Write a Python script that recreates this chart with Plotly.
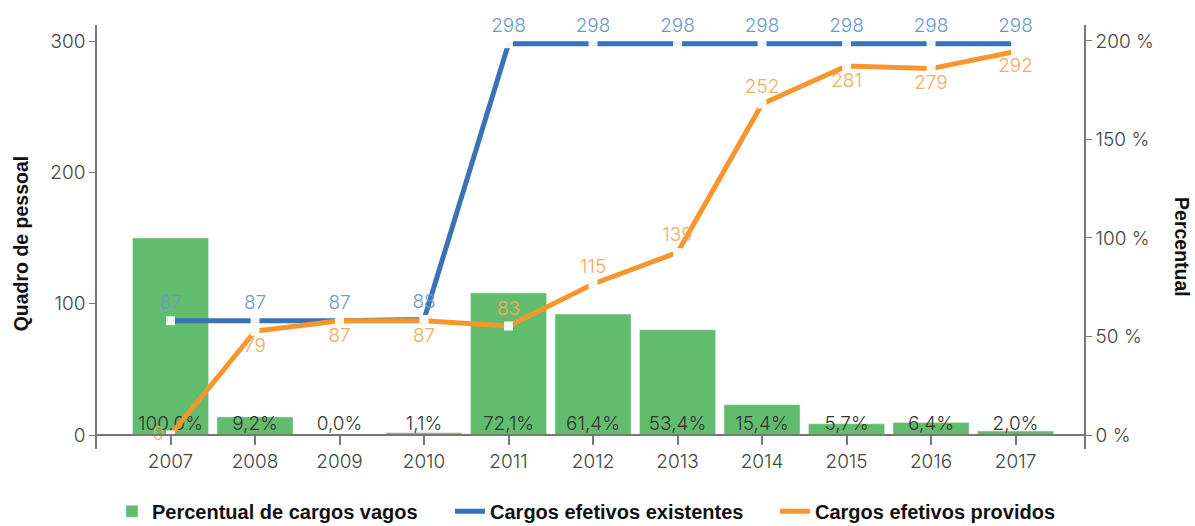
import plotly.graph_objects as go

# data
years = ['2007', '2008', '2009', '2010', '2011', '2012', '2013', '2014', '2015', '2016', '2017']
pct_vagos = [100.0, 9.2, 0.0, 1.1, 72.1, 61.4, 53.4, 15.4, 5.7, 6.4, 2.0]
existentes = [87, 87, 87, 88, 298, 298, 298, 298, 298, 298, 298]
providos = [0, 79, 87, 87, 83, 115, 139, 252, 281, 279, 292]
pct_ticks = [0, 50, 100, 150, 200]
count_ticks = [0, 100, 200, 300]

GREEN = '#61bd6d'
BLUE = '#3a72b8'
ORANGE = '#f7962e'
LIGHT = 'Inter'
BOLD = 'Liberation Sans'

pct_text = [f"{v:.1f}".replace('.', ',') + '%' for v in pct_vagos]
prov_pos = ['middle left', 'bottom center', 'bottom center', 'bottom center', 'top center',
            'top center', 'top center', 'top center', 'bottom center', 'bottom center', 'bottom center']

fig = go.Figure()

# bars on the base axis (percent, right side) so the lines draw on top
fig.add_trace(go.Bar(
    x=years, y=pct_vagos, name='Percentual de cargos vagos',
    marker=dict(color=GREEN), yaxis='y', legend='legend'
))
fig.add_trace(go.Scatter(
    x=years, y=[0] * len(years), mode='text', text=pct_text,
    textposition='top center', showlegend=False, yaxis='y', cliponaxis=False,
    textfont=dict(family=LIGHT, size=19, color='#333333', weight=300),
    hoverinfo='skip'
))

# lines on the overlaying axis (headcount, left side)
fig.add_trace(go.Scatter(
    x=years, y=existentes, mode='lines', name='Cargos efetivos existentes',
    line=dict(color=BLUE, width=5), yaxis='y2', legend='legend2'
))
fig.add_trace(go.Scatter(
    x=years, y=existentes, mode='markers+text', text=[str(v) for v in existentes],
    textposition='top center', showlegend=False, yaxis='y2', cliponaxis=False,
    marker=dict(symbol='square', size=9, color='rgba(255,255,255,0.92)'),
    textfont=dict(family=LIGHT, size=19, color='#6b98d2', weight=300)
))
fig.add_trace(go.Scatter(
    x=years, y=providos, mode='lines', name='Cargos efetivos providos',
    line=dict(color=ORANGE, width=5), yaxis='y2', legend='legend3'
))
fig.add_trace(go.Scatter(
    x=years, y=providos, mode='markers+text', text=[str(v) for v in providos],
    textposition=prov_pos, showlegend=False, yaxis='y2', cliponaxis=False,
    marker=dict(symbol='square', size=9, color='rgba(255,255,255,0.92)'),
    textfont=dict(family=LIGHT, size=19, color='#f6a95f', weight=300)
))

axis_font = dict(family=LIGHT, size=19, color='#444444', weight=300)
legend_font = dict(family=BOLD, size=20, color='#111111', weight='bold')


def legend_at(xfrac):
    return dict(orientation='h', xref='container', x=xfrac, xanchor='left',
                yref='container', y=0.028, yanchor='middle',
                font=legend_font, itemwidth=30)


fig.update_layout(
    width=1195, height=526,
    margin=dict(l=97, r=111, t=25, b=77, autoexpand=False),
    plot_bgcolor='white', paper_bgcolor='white',
    bargap=0.1,
    showlegend=True,
    xaxis=dict(
        type='category', range=[-0.87, 10.81], automargin=False,
        anchor='free', position=0.033,
        showline=True, linecolor='#777777', linewidth=2,
        ticks='outside', ticklen=9, tickcolor='#777777', tickwidth=1.5,
        tickfont=axis_font, showgrid=False
    ),
    yaxis=dict(
        side='right', range=[-7.1, 208.1], automargin=False,
        tickvals=pct_ticks, ticktext=[f"{v} %" for v in pct_ticks],
        showline=True, linecolor='#777777', linewidth=1.5,
        ticks='outside', ticklen=6, tickcolor='#777777',
        tickfont=axis_font, showgrid=False, zeroline=False
    ),
    yaxis2=dict(
        overlaying='y', side='left', range=[-10.66, 312.2], automargin=False,
        tickvals=count_ticks,
        showline=True, linecolor='#777777', linewidth=1.5,
        ticks='outside', ticklen=6, tickcolor='#777777',
        tickfont=axis_font, showgrid=False, zeroline=False
    ),
    legend=legend_at(0.0937),
    legend2=legend_at(0.3766),
    legend3=legend_at(0.6485),
    annotations=[
        dict(text='Quadro de pessoal', xref='paper', yref='paper', x=-0.077, y=0.485,
             textangle=-90, showarrow=False, xanchor='center', yanchor='middle',
             font=dict(family=BOLD, size=19.5, color='#111111', weight='bold')),
        dict(text='Percentual', xref='paper', yref='paper', x=1.1, y=0.477,
             textangle=90, showarrow=False, xanchor='center', yanchor='middle',
             font=dict(family=BOLD, size=19.5, color='#111111', weight='bold')),
    ]
)

fig.write_html("out.html", config={'displayModeBar': False},
               post_script="document.body.style.margin='0';")
